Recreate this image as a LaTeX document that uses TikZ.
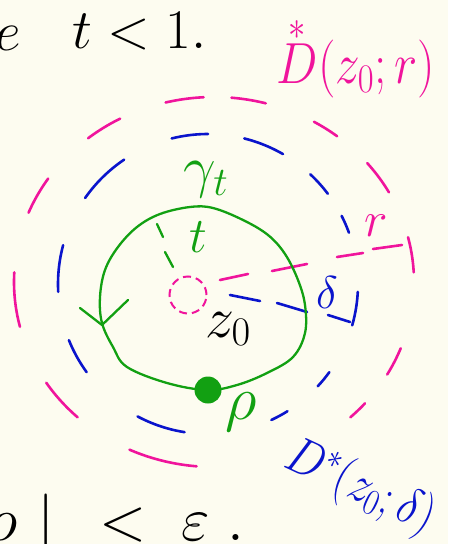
\RequirePackage{fix-cm}
\documentclass[tikz,border=0pt]{standalone}
\usepackage{amsmath}
\definecolor{bg}{HTML}{FDFCF0}
\definecolor{pk}{HTML}{F0149C}
\definecolor{bl}{HTML}{0A14CC}
\definecolor{gr}{HTML}{12A012}
\tikzset{
  pkline/.style={pk, line width=2.6pt, line cap=round},
  blline/.style={bl, line width=2.6pt, line cap=round},
  grline/.style={gr, line width=2.3pt, line cap=round, line join=round},
  lbl/.style={inner sep=0pt, outer sep=0pt},
}
\newcommand\fsz[1]{\fontsize{#1}{#1}\selectfont}
\begin{document}
\begin{tikzpicture}[x=1pt,y=-1pt]
\fill[bg] (0,0) rectangle (448,544);
\useasboundingbox (0,0) rectangle (448,544);
\clip (0,0) rectangle (448,544);

% pink circle D*(z0;r)
\foreach \a/\b in {256/267, 275/285, 231/242, 300/308, 202/214, 320/331, 166/183, 346/357, 21/30, 133/147, 41/47, 95/115}
  \draw[pkline] plot[domain=\a:\b, samples=12, smooth] ({214+200*cos(\x)},{282+185*sin(\x)});

% blue circle D*(z0;delta)
\foreach \a/\b in {256/270, 284/300, 215/236, 313/323, 333/340, 177/195, 3/16, 144/158, 36/43, 99/118, 58/65}
  \draw[blline] plot[domain=\a:\b, samples=12, smooth] ({208+150*cos(\x)},{284+150*sin(\x)});

% small dashed circle at z0
\node[circle, draw=pk, line width=2pt, dash pattern=on 8pt off 5pt, minimum size=37pt, inner sep=0pt] (zc) at (188,295) {};

% radius r (pink)
\draw[pkline] (220,280) -- (248,274);
\draw[pkline] (272,271) -- (307,264);
\draw[pkline] (337,257) -- (363,253);
\draw[pkline] (373,249) -- (402,245);

% radius delta (blue)
\draw[blline] (230,295) -- (260,301);
\draw[blline] (277,303) -- (307,312);
\draw[blline] (328,315) -- (350,322);

% radius t (green)
\draw[grline] (157,224) -- (163,237);
\draw[grline] (165,252) -- (173,267);

% gamma_t curve
\draw[grline] plot[smooth cycle, tension=0.6] coordinates {
  (160,214) (190,207) (213,208) (243,220) (268,235) (285,254) (298,280)
  (305,305) (305,333) (293,357) (267,373) (237,385) (207,390) (167,383)
  (127,367) (113,347) (102,323) (100,297) (105,270) (118,247) (137,227)};
% arrowhead
\draw[grline] (80,308) -- (102,325) -- (128,300);
% starting point
\fill[gr] (208,390) circle[radius=13.5];

% labels
\node[lbl, text=gr, font=\fsz{58}] (gam) at (206,180) {$\gamma_t$};
\node[lbl, text=gr, font=\fsz{50}] (tin) at (198,237) {$t$};
\node[lbl, font=\fsz{58}] (z0) at (228,329) {$z_0$};
\node[lbl, text=bl, font=\fsz{46}] (del) at (327,293) {$\delta$};
\node[lbl, text=pk, font=\fsz{50}] (rl) at (376,226) {$r$};
\node[lbl, text=gr, font=\fsz{62}] (rho) at (241,412) {$\rho$};
\node[lbl, text=pk, font=\fsz{58}] (Dr) at (356,58) {\scalebox{0.85}[1]{$\overset{*}{D}(z_0;r)$}};
\node[lbl, text=bl, font=\fsz{52}, rotate=-25] (Dd) at (360,488) {\scalebox{0.85}[1]{$D^*(z_0;\delta)$}};

% text fragments at the edges
\node[lbl, anchor=base west, font=\fsz{56}] (te) at (-5,50) {$e$};
\node[lbl, anchor=base west, font=\fsz{56}] (tt) at (72,48) {$t<1.$};
\node[lbl, anchor=base west, font=\fsz{62}] (bt) at (-12,540) {$o\,\,|\;\,<\;\varepsilon\;.$};
\end{tikzpicture}
\end{document}
